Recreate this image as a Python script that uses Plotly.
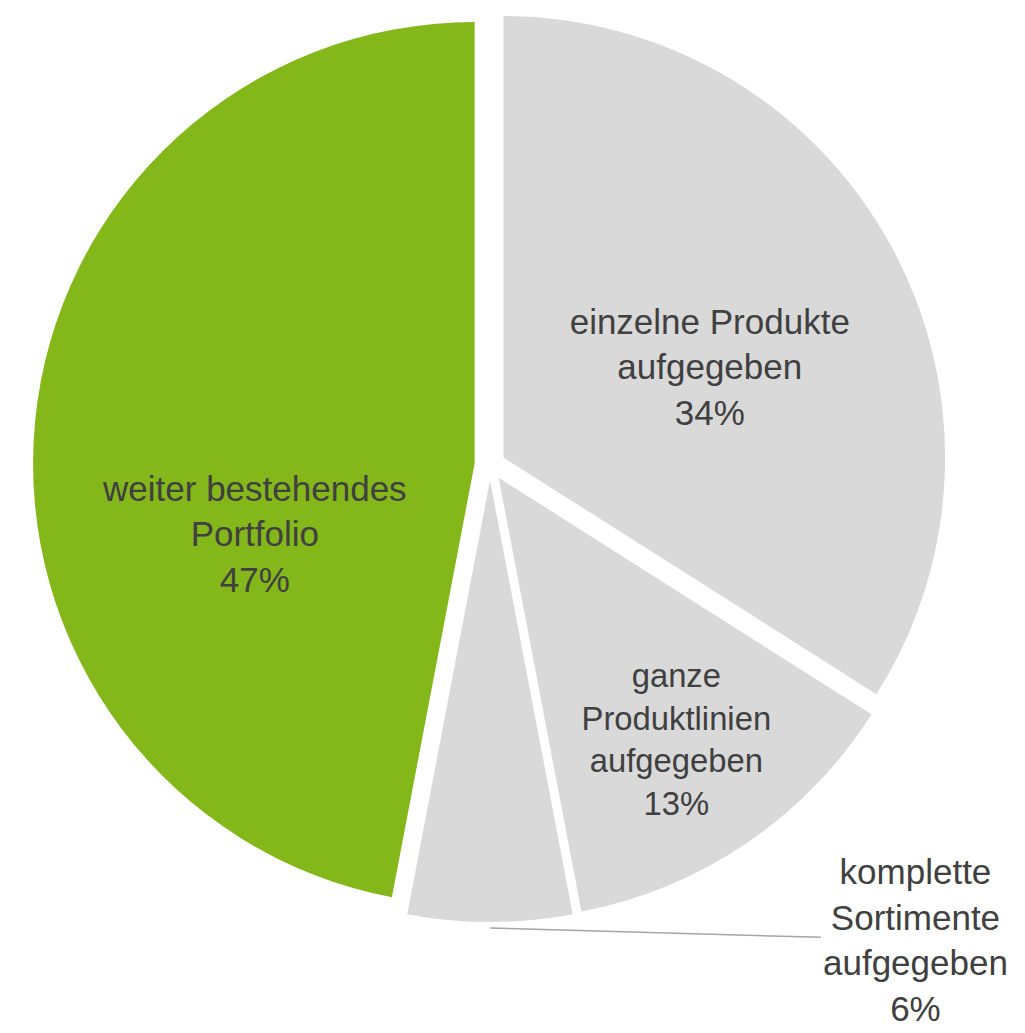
import plotly.graph_objects as go

labels = ["einzelne Produkte<br>aufgegeben", "ganze<br>Produktlinien<br>aufgegeben",
          "komplette<br>Sortimente<br>aufgegeben", "weiter bestehendes<br>Portfolio"]
values = [34, 13, 6, 47]
colors = ["#D9D9D9", "#D9D9D9", "#D9D9D9", "#84B71A"]
text_positions = ["inside", "inside", "none", "inside"]
text_templates = ["&nbsp;<br>%{label}<br>%{value}%", "%{label}<br>%{value}%", "",
                  "&nbsp;<br>&nbsp;<br>&nbsp;<br>&nbsp;<br>%{label}<br>%{value}%"]

W, H = 1017, 1025   # page body has an 8px margin
FONT = "Liberation Sans, Arial, sans-serif"
TXT = "#404040"

fig = go.Figure(go.Pie(
    labels=labels,
    values=values,
    sort=False,
    direction="clockwise",
    rotation=0,
    pull=0.035,
    marker=dict(colors=colors, line=dict(width=0)),
    texttemplate=text_templates,
    textposition=text_positions,
    insidetextorientation="horizontal",
    textfont=dict(family=FONT, size=35, color=TXT),
    hoverinfo="skip",
    showlegend=False,
    domain=dict(x=[25 / W, 939 / W], y=[1 - 914 / H, 1]),
))

# outside label of the small slice with leader line
fig.add_annotation(
    x=482 / W, y=1 - 920 / H, xref="paper", yref="paper",
    text=labels[2] + "<br>" + str(values[2]) + "%",
    showarrow=True, arrowhead=0, arrowwidth=1.5, arrowcolor="#A6A6A6",
    ax=425, ay=12,
    font=dict(family=FONT, size=35, color=TXT),
    align="center",
)

fig.update_layout(
    width=W, height=H,
    margin=dict(l=0, r=0, t=0, b=0),
    paper_bgcolor="white",
    plot_bgcolor="white",
)

fig.write_html("out.html")
